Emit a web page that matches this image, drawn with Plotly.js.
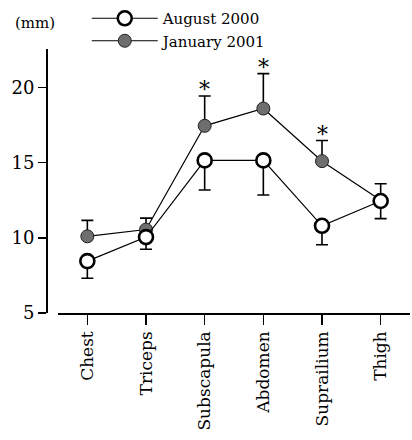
<!DOCTYPE html>
<html>
<head>
<meta charset="utf-8">
<script src="https://cdn.plot.ly/plotly-3.0.1.min.js"></script>
<style>html,body{margin:0;padding:0;background:#fff;}#chart{width:412px;height:440px;}</style>
</head>
<body>
<div id="chart"></div>
<script>
var categories = ['Chest', 'Triceps', 'Subscapula', 'Abdomen', 'Suprailium', 'Thigh'];
var aug2000 = [8.45, 10.05, 15.15, 15.15, 10.8, 12.45];
var aug2000SD = [1.14, 0.81, 1.97, 2.3, 1.26, 1.17];
var jan2001 = [10.1, 10.55, 17.45, 18.6, 15.1, 12.5];
var jan2001SD = [1.06, 0.76, 1.98, 2.32, 1.37, 1.1];
var significant = [false, false, true, true, true, false];
var yTicks = [5, 10, 15, 20];

var serif = 'DejaVu Serif, Liberation Serif, serif';

var traceJan = {
  x: categories, y: jan2001, name: 'January 2001', type: 'scatter', mode: 'lines+markers',
  legendrank: 2,
  line: {color: '#000', width: 1.2},
  marker: {size: 13, color: '#6e6e6e', line: {color: '#222', width: 1}},
  error_y: {type: 'data', symmetric: false, array: jan2001SD,
            arrayminus: jan2001SD.map(function(){return 0;}),
            color: '#000', thickness: 1.6, width: 6}
};
var traceAug = {
  x: categories, y: aug2000, name: 'August 2000', type: 'scatter', mode: 'lines+markers',
  legendrank: 1,
  line: {color: '#000', width: 1.2},
  marker: {size: 14, color: '#fff', line: {color: '#000', width: 2.6}},
  error_y: {type: 'data', symmetric: false, array: aug2000SD.map(function(){return 0;}),
            arrayminus: aug2000SD, color: '#000', thickness: 1.6, width: 6}
};

var annotations = [];
categories.forEach(function(c, i){
  if (significant[i]) {
    annotations.push({x: c, y: jan2001[i] + jan2001SD[i], xref: 'x', yref: 'y',
      text: '*', showarrow: false, yanchor: 'bottom', yshift: -8,
      font: {family: serif, size: 22, color: '#000'}});
  }
});
annotations.push({xref: 'paper', yref: 'paper', x: -0.03, y: 1.1, xanchor: 'center', yanchor: 'middle',
  text: '(mm)', showarrow: false, font: {family: serif, size: 15, color: '#000'}});

var layout = {
  width: 412, height: 440,
  margin: {l: 46, r: 2, t: 47, b: 127},
  paper_bgcolor: '#fff', plot_bgcolor: '#fff',
  showlegend: true,
  legend: {x: 0.112, y: 1.178, xanchor: 'left', yanchor: 'top', bgcolor: 'rgba(0,0,0,0)',
           itemwidth: 66,
           font: {family: serif, size: 15, color: '#000'}, tracegroupgap: 0},
  xaxis: {
    domain: [0.033, 1], range: [-0.5, 5.5], type: 'category',
    showline: true, linecolor: '#000', linewidth: 1.5, showgrid: false, zeroline: false,
    ticks: 'outside', ticklen: 10, tickwidth: 1.5, tickcolor: '#000', tickangle: -90,
    tickfont: {family: serif, size: 17, color: '#000'}
  },
  yaxis: {
    anchor: 'free', position: 0, range: [5, 22.56],
    tickvals: yTicks, ticktext: yTicks.map(String),
    showline: true, linecolor: '#000', linewidth: 1.5, showgrid: false, zeroline: false,
    ticks: 'outside', ticklen: 8, tickwidth: 1.5, tickcolor: '#000',
    tickfont: {family: serif, size: 18, color: '#000'}
  },
  annotations: annotations
};

Plotly.newPlot('chart', [traceJan, traceAug], layout, {displayModeBar: false, staticPlot: true});
</script>
</body>
</html>
